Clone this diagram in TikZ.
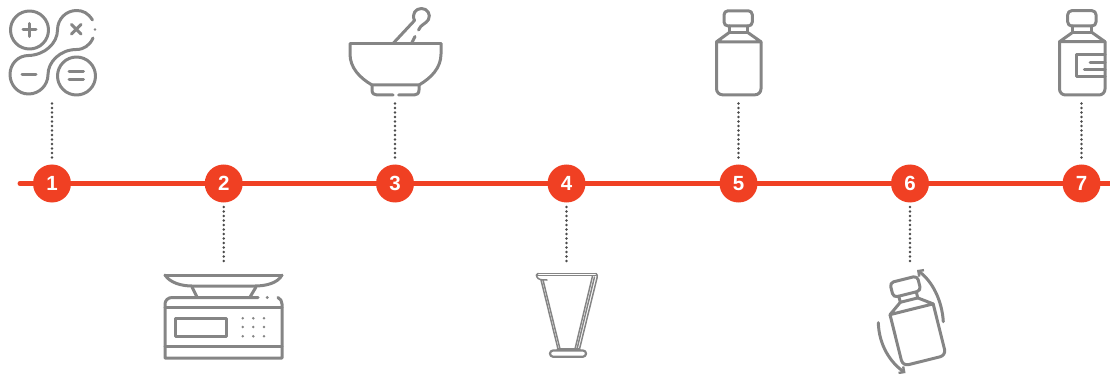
\documentclass[tikz,border=0pt]{standalone}
\usepackage{fontspec}
\setmainfont{Liberation Sans}
\usetikzlibrary{arrows.meta}
\definecolor{stepred}{HTML}{F04023}
\definecolor{icongray}{HTML}{858585}
\definecolor{dotgray}{HTML}{4A4A4A}
\tikzset{
  x=1pt,y=-1pt,
  iconline/.style={draw=icongray,line width=3pt,line cap=round,line join=round},
  thinline/.style={draw=icongray,line width=1.5pt,line cap=round,line join=round},
  tinydot/.style={fill=icongray,draw=none},
  stepnode/.style={circle,fill=stepred,text=white,minimum size=38pt,inner sep=0pt,font=\fontsize{20.5}{21}\selectfont\bfseries},
  leader/.style={draw=dotgray,line width=2.7pt,line cap=round,dash pattern=on 0pt off 4.5pt},
  timeline/.style={draw=stepred,line width=5pt,line cap=round},
  bottleicon/.pic={
    \draw[iconline,rounded corners=4pt] (-14.5,-42) rectangle (13.8,-26.8);
    \draw[iconline] (-9,-26.8) -- (-9,-20.5) -- (9,-20.5) -- (9,-26.8);
    \draw[iconline] (-9,-20.5) -- (-22,-11) -- (22.5,-11) -- (9,-20.5);
    \draw[iconline,rounded corners=6pt] (-22,-11) -- (-22,42) -- (22.5,42) -- (22.5,-11);
  }
}
\begin{document}
\begin{tikzpicture}
\useasboundingbox (0,0) rectangle (1110,374);
% timeline
\coordinate (tlstart) at (20,183.5);
\coordinate (tlend) at (1112,183.5);
\draw[timeline] (tlstart) -- (tlend);
\node[stepnode] (s1) at (52,183.5) {1};
\node[stepnode] (s2) at (223.7,183.5) {2};
\node[stepnode] (s3) at (395,183.5) {3};
\node[stepnode] (s4) at (566.5,183.5) {4};
\node[stepnode] (s5) at (738.5,183.5) {5};
\node[stepnode] (s6) at (910,183.5) {6};
\node[stepnode] (s7) at (1081.5,183.5) {7};
% leaders
\coordinate (e1) at (52,103.5);
\coordinate (e2) at (223.7,263.5);
\coordinate (e3) at (395,103.5);
\coordinate (e4) at (566.5,263.5);
\coordinate (e5) at (738.5,103.5);
\coordinate (e6) at (910,263.5);
\coordinate (e7) at (1081.5,103.5);
\draw[leader] (e1) -- (52,160);
\draw[leader] (e3) -- (395,160);
\draw[leader] (e5) -- (738.5,160);
\draw[leader] (e7) -- (1081.5,160);
\draw[leader] (223.7,207) -- (e2);
\draw[leader] (566.5,207) -- (e4);
\draw[leader] (910,207) -- (e6);
% 1 calculator
\draw[iconline] (29.5,30) circle (19);
\draw[iconline] (76.5,76) circle (19);
\draw[iconline] (92.5,20) .. controls (88,13) and (83,10.5) .. (76.5,10.5)
  .. controls (66,10.5) and (57.5,19) .. (57.5,30)
  .. controls (57.5,43) and (45,55) .. (28.5,55.5)
  .. controls (18,55.5) and (10,64) .. (10,74.5)
  .. controls (10,85) and (18,94) .. (28.5,94)
  .. controls (39.3,94) and (48,85.3) .. (48,74.5)
  .. controls (48,62) and (60,49.5) .. (76.5,49.5)
  .. controls (84,49.5) and (90,45) .. (93,38);
\fill[tinydot] (95,29.5) circle (1.4);
\draw[iconline] (23,30) -- (36,30) (29.5,23.5) -- (29.5,36.5);
\draw[iconline] (71.5,24.5) -- (81,34) (81,24.5) -- (71.5,34);
\draw[iconline] (22,75) -- (36,75);
\draw[iconline] (69,71.5) -- (83.5,71.5) (69,80) -- (83.5,80);
% 2 scale
\draw[iconline] (165,275) -- (282,275);
\draw[iconline] (165,275) .. controls (170,283) and (182,286) .. (192,286) -- (255,286) .. controls (266,286) and (278,283) .. (282,275);
\draw[iconline] (192,287) -- (197,297);
\draw[iconline] (256,287) -- (250,297);
\draw[iconline] (258,297.5) -- (172,297.5) .. controls (168,297.5) and (165,300.5) .. (165,304) -- (165,358) -- (282,358) -- (282,304) .. controls (282,301) and (280.5,299) .. (278,297.5);
\fill[tinydot] (267.3,297.5) circle (1.6);
\draw[iconline] (165,307.3) -- (282,307.3);
\draw[iconline] (165,346.7) -- (282,346.7);
\draw[iconline] (175.7,318.3) rectangle (226,336.7);
\foreach \dx in {242.7,253.3,264}{\foreach \dy in {318.3,327,336.3}{\fill[tinydot] (\dx,\dy) circle (1.4);}}
% 3 mortar
\draw[iconline] (350,44) -- (441,44);
\draw[iconline] (350,44) -- (350,54) .. controls (350,68) and (360,78) .. (372,85) -- (419,85) .. controls (431,78) and (441,68) .. (441,54) -- (441,44);
\draw[iconline] (372,85) -- (372,90) .. controls (372,93.5) and (374,95) .. (377,95) -- (393,95);
\draw[iconline] (398.5,95) -- (414,95) .. controls (417,95) and (419,93.5) .. (419,90) -- (419,85);
\draw[iconline] (393.5,43) -- (414.5,20.5) .. controls (411.5,14) and (415.5,8.5) .. (421.5,8.5) .. controls (427.5,8.5) and (431,14.5) .. (428.5,19.5) .. controls (426,24) and (421,24) .. (418.5,30);
\draw[iconline] (412,42.5) -- (415,36.5);
% 4 beaker
\draw[thinline] (538,273.5) -- (596,273.5);
\draw[thinline] (537,275.5) -- (596,275.5);
\draw[thinline] (538,273.5) .. controls (536,274) and (536,276) .. (537,277) .. controls (538,279.5) and (541,280) .. (547,280);
\draw[thinline] (596,273.5) .. controls (597.5,274) and (597.5,276) .. (597,278);
\draw[thinline] (541,280) -- (558,349);
\draw[thinline] (543,280) -- (560,349);
\draw[thinline] (597,278) -- (579.5,349);
\draw[thinline] (594.5,277) -- (577,349);
\draw[thinline] (592.5,276) -- (575,349);
\draw[iconline,line width=2.4pt] (557.5,349.5) -- (579.5,349.5);
\draw[iconline,line width=2.2pt,rounded corners=3pt] (550,350.5) rectangle (586,356.7);
% 5 bottle
\pic at (738.5,52.8) {bottleicon};
% 6 tilted bottle and arrows
\pic[rotate=14] at (914,320) {bottleicon};
\coordinate (a1s) at (943.3,321.7);
\coordinate (a1e) at (917,270);
\coordinate (a2s) at (878.3,322.7);
\coordinate (a2e) at (905.5,373);
\draw[iconline,-{Straight Barb[length=4pt,width=8pt,line width=2.4pt]}] (a1s) .. controls (942,300) and (932,281) .. (a1e);
\draw[iconline,-{Straight Barb[length=4pt,width=8pt,line width=2.4pt]}] (a2s) .. controls (879,345) and (890,362) .. (a2e);
% 7 labelled bottle
\draw[iconline,rounded corners=4pt] (1067.7,10.7) rectangle (1096,26);
\draw[iconline] (1072.7,26) -- (1072.7,32.3) -- (1091.7,32.3) -- (1091.7,26);
\draw[iconline] (1072.7,32.3) -- (1059.5,41.7) -- (1105,41.7) -- (1091.7,32.3);
\draw[iconline,rounded corners=6pt] (1059.5,41.7) -- (1059.5,95) -- (1105,95) -- (1105,41.7);
\draw[iconline] (1105,55) -- (1076,55) -- (1076,76.7) -- (1105,76.7);
\draw[iconline] (1090,62.3) -- (1105,62.3);
\draw[iconline] (1084.3,69.3) -- (1105,69.3);
\end{tikzpicture}
\end{document}
